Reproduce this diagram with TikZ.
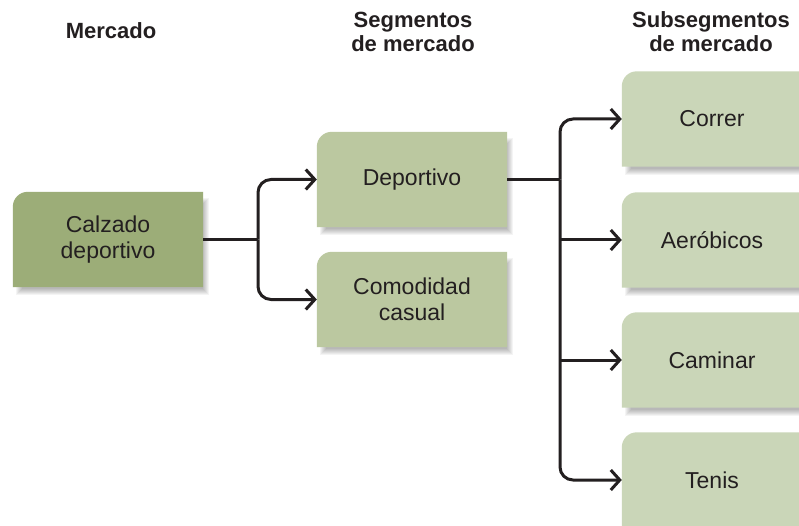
\documentclass[tikz,border=0pt]{standalone}
\usepackage{fontspec}
\setmainfont{Liberation Sans}
\usetikzlibrary{arrows.meta,calc,backgrounds}
\definecolor{cdark}{HTML}{9CAD78}
\definecolor{cmid}{HTML}{BBC8A0}
\definecolor{clight}{HTML}{CAD6B8}
\definecolor{textcol}{HTML}{231F20}
\tikzset{
  boxtext/.style={minimum height=95pt, inner sep=0pt, align=center,
    font=\fontsize{23}{26}\selectfont, text=textcol},
  shadowlayer/.style={fill=black, opacity=0.045},
  header/.style={align=center, font=\bfseries\fontsize{22}{24}\selectfont, text=textcol, inner sep=0pt},
  conn/.style={line width=3pt, draw=textcol, rounded corners=13pt},
  arr/.style={conn, -{Straight Barb[length=9pt,width=20pt,line width=3pt]}},
}
\newcommand\gbox[6]{%
  \node[boxtext, minimum width=#4pt] (#1) at (#2,#3) {#6};
  \begin{pgfonlayer}{background}
  \foreach \k in {0,...,6}{
    \fill[shadowlayer] ($(#1.north west)+(\k+3,\k+6)$) rectangle ($(#1.south east)+(6-\k,8-\k)$);
  }
  \fill[#5] (#1.south west) -- ($(#1.north west)+(0,15)$)
    .. controls ($(#1.north west)+(0,6.7)$) and ($(#1.north west)+(6.7,0)$)
    .. ($(#1.north west)+(15,0)$) -- (#1.north east) -- (#1.south east) -- cycle;
  \end{pgfonlayer}}
\begin{document}
\begin{tikzpicture}[x=1pt,y=-1pt]
\useasboundingbox (0,0) rectangle (799,526);
\begin{pgfonlayer}{background}
\fill[white] (0,0) rectangle (799,526);
\end{pgfonlayer}
\clip (0,0) rectangle (799,526);
% headers
\node[header] (h1) at (111,31) {Mercado};
\node[header] (h2) at (413,32) {Segmentos\\de mercado};
\node[header] (h3) at (711,32) {Subsegmentos\\de mercado};
% boxes
\gbox{calz}{108}{239.5}{190}{cdark}{Calzado\\deportivo}
\gbox{dep}{412}{179.5}{190}{cmid}{Deportivo}
\gbox{com}{412}{299.5}{190}{cmid}{Comodidad\\casual}
\gbox{cor}{712}{119}{180}{clight}{Correr}
\gbox{aer}{712}{240}{180}{clight}{Aeróbicos}
\gbox{cam}{712}{360}{180}{clight}{Caminar}
\gbox{ten}{712}{480}{180}{clight}{Tenis}
% connectors
\coordinate (j1) at (258,239.5);
\coordinate (j2) at (560,179.5);
\draw[conn] (calz.east) -- (j1);
\draw[arr] (j1) |- (dep.west);
\draw[arr] (j1) |- (com.west);
\draw[conn] (dep.east) -- (j2);
\draw[arr] (j2) |- (cor.west);
\draw[arr] (j2 |- aer.west) -- (aer.west);
\draw[arr] (j2 |- cam.west) -- (cam.west);
\draw[arr] (j2) |- (ten.west);
\end{tikzpicture}
\end{document}
